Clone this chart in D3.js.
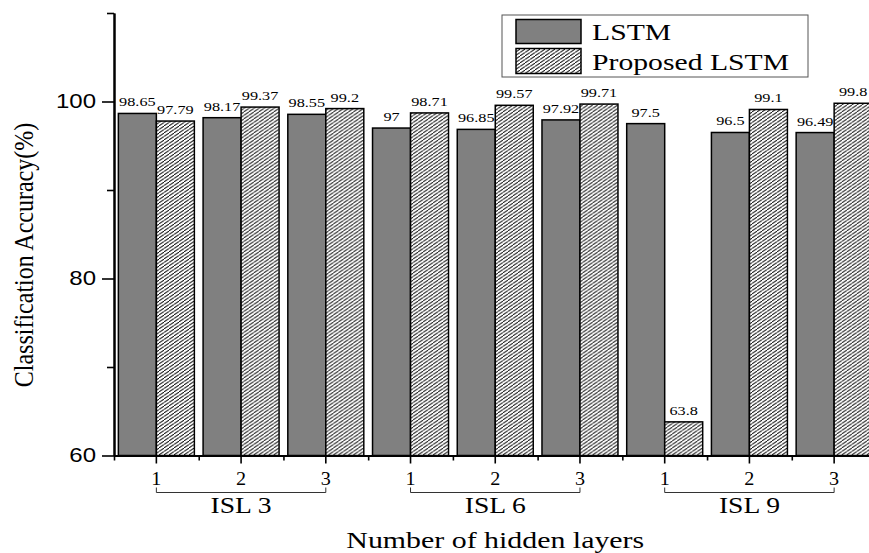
<!DOCTYPE html>
<meta charset="utf-8">
<head>
    <title>Classification accuracy</title>
    <style>
        body { margin: 0; background: #fff; }
    </style>
</head>
<body>
<div id="chart"></div>
<script src="https://d3js.org/d3.v7.min.js"></script>
<script>

    // data
    var layers = ["1", "2", "3", "1", "2", "3", "1", "2", "3"];
    var groups = ["ISL 3", "ISL 6", "ISL 9"];
    var series = ["LSTM", "Proposed LSTM"];
    var lstm = [98.65, 98.17, 98.55, 97, 96.85, 97.92, 97.5, 96.5, 96.49];
    var proposed = [97.79, 99.37, 99.2, 98.71, 99.57, 99.71, 63.8, 99.1, 99.8];
    var yTicks = [60, 80, 100];
    var yMinor = [70, 90, 110];

    var W = 869, H = 553;
    var serif = "'Liberation Serif', 'Times New Roman', serif";
    var sans = "'Liberation Sans', Arial, sans-serif";

    var svg = d3.select("#chart").append("svg")
        .attr("width", W)
        .attr("height", H);

    // hatch pattern for the proposed bars
    var defs = svg.append("defs");
    var pat = defs.append("pattern")
        .attr("id", "hatch")
        .attr("patternUnits", "userSpaceOnUse")
        .attr("width", 5)
        .attr("height", 3.5);
    pat.append("rect").attr("width", 5).attr("height", 3.5).attr("fill", "#fff");
    pat.append("path")
        .attr("d", "M-1,4.2 L6,-0.7")
        .attr("stroke", "#000")
        .attr("stroke-width", 0.9);

    // scales
    var x = d3.scaleBand()
        .domain(d3.range(layers.length))
        .range([114, 876.5]);
    var xs = d3.scaleBand()
        .domain(series)
        .range([0, x.bandwidth()])
        .paddingOuter(0.115);
    var xe = d3.scaleLinear()
        .domain([0, layers.length])
        .range(x.range());
    var y = d3.scaleLinear()
        .domain([60, 110])
        .range([455.5, 13]);

    // stretch text horizontally (the figure's type is wide)
    function stretch(sel, s) {
        sel.each(function() {
            var t = d3.select(this);
            var xx = +t.attr("x") || 0, yy = +t.attr("y") || 0;
            t.attr("x", 0).attr("y", 0)
                .attr("transform", "translate(" + xx + "," + yy + ") scale(" + s + ",1)");
        });
    }

    var rows = layers.map(function(l, i) {
        return { i: i, vals: [lstm[i], proposed[i]] };
    });

    // bars
    var g = svg.selectAll(".grp")
        .data(rows)
        .enter()
        .append("g")
        .attr("class", "grp")
        .attr("transform", function(d) { return "translate(" + x(d.i) + ",0)"; });

    g.selectAll("rect")
        .data(function(d) { return d.vals.map(function(v, k) { return { s: series[k], v: v }; }); })
        .enter()
        .append("rect")
        .attr("x", function(d) { return xs(d.s); })
        .attr("y", function(d) { return y(d.v); })
        .attr("width", xs.bandwidth())
        .attr("height", function(d) { return y(60) - y(d.v); })
        .attr("fill", function(d) { return d.s == "LSTM" ? "#808080" : "url(#hatch)"; })
        .attr("stroke", "#000")
        .attr("stroke-width", 1.5);

    // value labels
    g.selectAll("text")
        .data(function(d) { return d.vals.map(function(v, k) { return { s: series[k], v: v }; }); })
        .enter()
        .append("text")
        .attr("x", function(d) { return xs(d.s) + xs.bandwidth() / 2; })
        .attr("y", function(d) { return y(d.v) - 7; })
        .attr("text-anchor", "middle")
        .style("font-family", serif)
        .style("font-size", "12.5px")
        .text(function(d) { return d.v; })
        .call(stretch, 1.3);

    // y axis
    var yAx = svg.append("g")
        .attr("transform", "translate(114,0)")
        .call(d3.axisLeft(y).tickValues(yTicks).tickSize(12).tickPadding(6).tickSizeOuter(0));
    yAx.selectAll("text")
        .style("font-family", sans)
        .style("font-size", "20px")
        .attr("fill", "#000")
        .call(stretch, 1.2);
    svg.append("g")
        .attr("transform", "translate(114,0)")
        .call(d3.axisLeft(y).tickValues(yMinor).tickSize(7).tickFormat("").tickSizeOuter(0));

    // x axis
    var xAx = svg.append("g")
        .attr("transform", "translate(0," + y(60) + ")")
        .call(d3.axisBottom(x).tickSize(8).tickPadding(9).tickSizeOuter(0)
            .tickFormat(function(i) { return layers[i]; }));
    xAx.selectAll("text")
        .style("font-family", serif)
        .style("font-size", "18px")
        .attr("fill", "#000")
        .call(stretch, 1.12);
    svg.append("g")
        .attr("transform", "translate(0," + y(60) + ")")
        .call(d3.axisBottom(xe).tickValues(d3.range(layers.length + 1)).tickSize(5)
            .tickFormat("").tickSizeOuter(0));

    svg.selectAll(".domain").attr("stroke-width", 2);
    svg.selectAll(".tick line").attr("stroke-width", 1.6);

    // group brackets
    groups.forEach(function(name, k) {
        var x1 = x(k * 3) + x.bandwidth() / 2;
        var x2 = x(k * 3 + 2) + x.bandwidth() / 2;
        svg.append("path")
            .attr("d", "M" + x1 + ",487.5V492.5H" + x2 + "V487.5")
            .attr("fill", "none")
            .attr("stroke", "#333")
            .attr("stroke-width", 1);
        svg.append("text")
            .attr("x", (x1 + x2) / 2)
            .attr("y", 513)
            .attr("text-anchor", "middle")
            .style("font-family", serif)
            .style("font-size", "24px")
            .text(name)
            .call(stretch, 1.15);
    });

    // axis titles
    svg.append("text")
        .attr("x", (x.range()[0] + x.range()[1]) / 2)
        .attr("y", 548)
        .attr("text-anchor", "middle")
        .style("font-family", serif)
        .style("font-size", "23px")
        .text("Number of hidden layers")
        .call(stretch, 1.3);

    svg.append("text")
        .attr("transform", "translate(33,255) scale(1.12,1) rotate(-90)")
        .attr("text-anchor", "middle")
        .style("font-family", serif)
        .style("font-size", "24px")
        .text("Classification Accuracy(%)");

    // legend
    var leg = svg.append("g");
    leg.append("rect")
        .attr("x", 502).attr("y", 15)
        .attr("width", 306).attr("height", 62)
        .attr("fill", "#fff")
        .attr("stroke", "#555")
        .attr("stroke-width", 1);
    series.forEach(function(s, k) {
        leg.append("rect")
            .attr("x", 516).attr("y", k == 0 ? 19.5 : 48.5)
            .attr("width", 65).attr("height", k == 0 ? 24 : 25)
            .attr("fill", k == 0 ? "#808080" : "url(#hatch)")
            .attr("stroke", "#000")
            .attr("stroke-width", 1.5);
        leg.append("text")
            .attr("x", 592).attr("y", k == 0 ? 39.5 : 70)
            .style("font-family", serif)
            .style("font-size", "22.5px")
            .text(s)
            .call(stretch, 1.32);
    });

</script>
</body>
